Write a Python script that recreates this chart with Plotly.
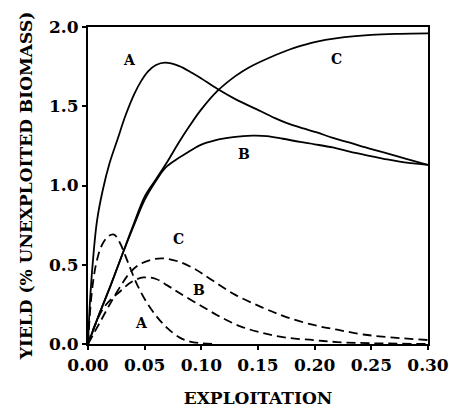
import plotly.graph_objects as go

# Solid curves (upper set)
xa_s = [0, 0.002, 0.005, 0.008, 0.013, 0.019, 0.026, 0.033, 0.041, 0.047, 0.053, 0.06, 0.068, 0.08, 0.092, 0.1, 0.114, 0.13, 0.152, 0.165, 0.175, 0.19, 0.202, 0.216, 0.231, 0.245, 0.26, 0.28, 0.3]
ya_s = [0, 0.3, 0.58, 0.78, 0.97, 1.14, 1.29, 1.44, 1.58, 1.66, 1.72, 1.76, 1.775, 1.755, 1.71, 1.675, 1.61, 1.545, 1.47, 1.425, 1.395, 1.36, 1.335, 1.30, 1.27, 1.24, 1.21, 1.17, 1.13]
xb_s = [0, 0.01, 0.02, 0.03, 0.04, 0.05, 0.06, 0.068, 0.077, 0.086, 0.099, 0.112, 0.128, 0.145, 0.158, 0.172, 0.187, 0.2, 0.216, 0.23, 0.246, 0.26, 0.275, 0.3]
yb_s = [0, 0.19, 0.37, 0.56, 0.74, 0.91, 1.03, 1.11, 1.16, 1.20, 1.255, 1.285, 1.305, 1.315, 1.312, 1.295, 1.275, 1.26, 1.24, 1.215, 1.19, 1.17, 1.15, 1.13]
xc_s = [0, 0.01, 0.02, 0.03, 0.04, 0.05, 0.06, 0.07, 0.08, 0.09, 0.1, 0.114, 0.13, 0.142, 0.158, 0.175, 0.19, 0.2, 0.22, 0.25, 0.275, 0.3]
yc_s = [0, 0.19, 0.37, 0.56, 0.75, 0.93, 1.04, 1.15, 1.27, 1.38, 1.48, 1.595, 1.69, 1.745, 1.80, 1.85, 1.885, 1.905, 1.93, 1.95, 1.957, 1.96]

# Dashed curves (lower set)
xa_d = [0, 0.003, 0.007, 0.012, 0.018, 0.023, 0.028, 0.035, 0.043, 0.052, 0.061, 0.07, 0.081, 0.09, 0.1, 0.11]
ya_d = [0, 0.3, 0.5, 0.62, 0.68, 0.69, 0.64, 0.52, 0.38, 0.26, 0.17, 0.1, 0.04, 0.015, 0.005, 0]
xb_d = [0, 0.005, 0.013, 0.02, 0.028, 0.038, 0.049, 0.06, 0.07, 0.081, 0.1, 0.117, 0.135, 0.154, 0.175, 0.199, 0.22, 0.25, 0.3]
yb_d = [0, 0.1, 0.22, 0.28, 0.33, 0.39, 0.42, 0.41, 0.37, 0.32, 0.24, 0.17, 0.11, 0.07, 0.04, 0.025, 0.012, 0.005, 0.0]
xc_d = [0, 0.01, 0.02, 0.03, 0.037, 0.045, 0.055, 0.066, 0.08, 0.095, 0.11, 0.13, 0.154, 0.175, 0.199, 0.22, 0.243, 0.27, 0.3]
yc_d = [0, 0.13, 0.26, 0.38, 0.45, 0.5, 0.53, 0.54, 0.52, 0.47, 0.40, 0.31, 0.23, 0.17, 0.12, 0.09, 0.06, 0.04, 0.025]

labels = ["A", "C", "B", "C", "B", "A"]
label_x = [0.037, 0.219, 0.138, 0.080, 0.098, 0.047]
label_y = [1.79, 1.80, 1.20, 0.66, 0.34, 0.13]

x_ticks = [0, 0.05, 0.1, 0.15, 0.2, 0.25, 0.3]
y_ticks = [0, 0.5, 1.0, 1.5, 2.0]

FONT = "DejaVu Serif"
fig = go.Figure()
for xs, ys, dash in [(xa_s, ya_s, "solid"), (xb_s, yb_s, "solid"), (xc_s, yc_s, "solid"),
                     (xa_d, ya_d, "9px,5px"), (xb_d, yb_d, "9px,5px"), (xc_d, yc_d, "9px,5px")]:
    fig.add_trace(go.Scatter(x=xs, y=ys, mode="lines",
                             line=dict(color="black", width=1.8, dash=dash, shape="spline", smoothing=1.0),
                             showlegend=False, hoverinfo="skip"))

for t, lx, ly in zip(labels, label_x, label_y):
    fig.add_annotation(x=lx, y=ly, text=t, showarrow=False,
                       font=dict(family=FONT, size=14, color="black", weight="bold"))

axis_common = dict(showgrid=False, zeroline=False, showline=True, linecolor="black", linewidth=2,
                   mirror=True, ticks="outside", ticklen=4, tickwidth=1.5, tickcolor="black",
                   automargin=False,
                   tickfont=dict(family=FONT, size=17, color="black", weight="bold"))

fig.update_xaxes(range=[0, 0.3], tickvals=x_ticks, tickformat=".2f", ticklabelstandoff=1,
                 title=dict(text="EXPLOITATION", standoff=18,
                            font=dict(family=FONT, size=17, color="black", weight="bold")),
                 **axis_common)
fig.update_yaxes(range=[0, 2.0], tickvals=y_ticks, tickformat=".1f",
                 title=dict(text="YIELD (% UNEXPLOITED BIOMASS)", standoff=12,
                            font=dict(family=FONT, size=17, color="black", weight="bold")),
                 **axis_common)

fig.update_layout(width=449, height=411, margin=dict(l=88, r=21, t=27, b=67),
                  plot_bgcolor="white", paper_bgcolor="white")
fig.write_html("out.html", config={"displayModeBar": False},
               post_script="document.body.style.margin='0px';")
